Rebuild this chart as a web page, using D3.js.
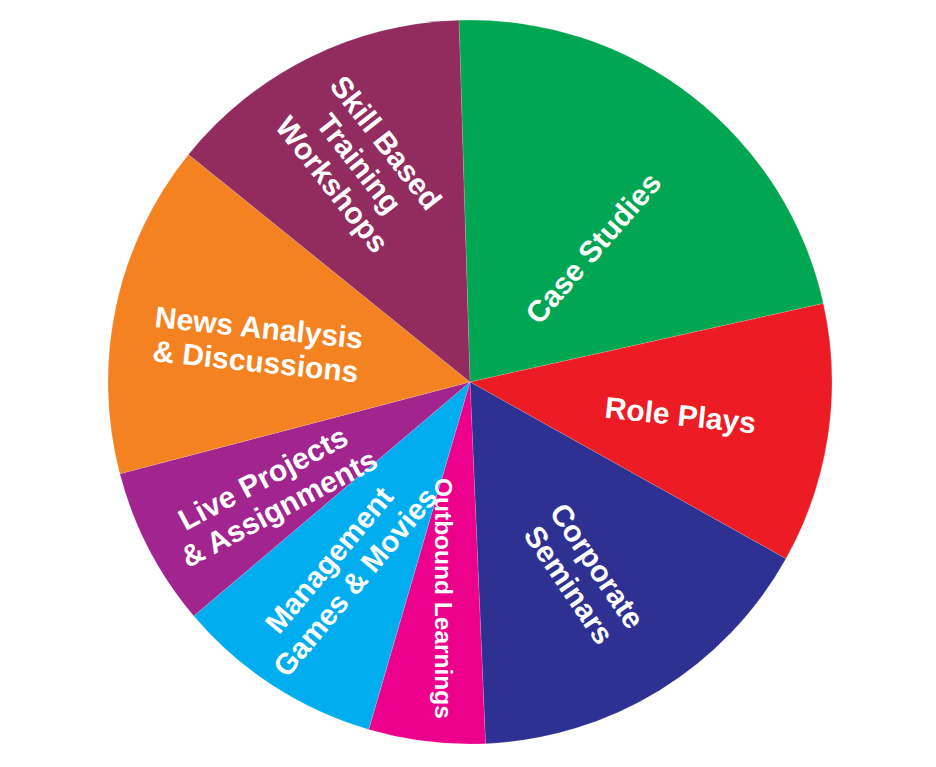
<!DOCTYPE html>
<html>
<head>
<meta charset="utf-8">
<script src="https://cdn.jsdelivr.net/npm/d3@7"></script>
<style>
	html, body { margin: 0; padding: 0; background: #fff; }
	svg { display: block; }
	.slice-label { font-family: "Liberation Sans", Arial, sans-serif; font-weight: bold; fill: #fff; }
</style>
</head>
<body>
<svg id="canvas" width="936" height="767"></svg>
<script>
// slices, clockwise from just left of 12 o'clock
const categories = ["Case Studies", "Role Plays", "Corporate Seminars", "Outbound Learnings",
	"Management Games & Movies", "Live Projects & Assignments", "News Analysis & Discussions",
	"Skill Based Training Workshops"];
const shares = [22, 11.6, 16.2, 5.2, 9.3, 7.1, 14.9, 13.7];
const labelLines = [["Case Studies"], ["Role Plays"], ["Corporate", "Seminars"], ["Outbound Learnings"],
	["Management", "Games & Movies"], ["Live Projects", "& Assignments"], ["News Analysis", "& Discussions"],
	["Skill Based", "Training", "Workshops"]];
const sliceColors = ["#00a651", "#ed1c24", "#2e3192", "#ec008c", "#00aeef", "#a1248f", "#f58220", "#922c5f"];

// label placement: radius, shift from mid angle (deg), text rotation (deg), font size
const labelLayout = [
	{r: 182, shift: 4.6, rot: -49, size: 30},
	{r: 213, shift: 0.5, rot: 6, size: 30},
	{r: 224, shift: 1.2, rot: 56, size: 30},
	{r: 218, shift: 0, rot: 90, size: 24.5},
	{r: 228, shift: 1.2, rot: -50, size: 29.5},
	{r: 228, shift: -1.6, rot: -28, size: 30},
	{r: 216, shift: -2, rot: 6, size: 30},
	{r: 245, shift: -0.4, rot: 52, size: 30}
];

const cx = 470, cy = 382, radius = 362;
const lineH = 34;

const svg = d3.select("#canvas");
const g = svg.append("g").attr("transform", "translate(" + cx + "," + cy + ")");

const pie = d3.pie()
	.sort(null)
	.value(d => d.value)
	.startAngle(-1.74 * Math.PI / 180)
	.endAngle(2 * Math.PI - 1.74 * Math.PI / 180);

const arc = d3.arc().innerRadius(0).outerRadius(radius);

const data = categories.map((c, i) => ({name: c, value: shares[i], lines: labelLines[i], color: sliceColors[i], layout: labelLayout[i]}));
const arcs = pie(data);

g.selectAll("path.slice")
	.data(arcs)
	.enter().append("path")
	.attr("class", "slice")
	.attr("d", arc)
	.attr("fill", d => d.data.color)
	.attr("stroke", "rgba(255,255,255,0.35)")
	.attr("stroke-width", 0.4);

const label = g.selectAll("g.label")
	.data(arcs)
	.enter().append("g")
	.attr("class", "label")
	.attr("transform", d => {
		const a = (d.startAngle + d.endAngle) / 2 + d.data.layout.shift * Math.PI / 180;
		const r = d.data.layout.r;
		return "translate(" + (r * Math.sin(a)) + "," + (-r * Math.cos(a)) + ") rotate(" + d.data.layout.rot + ")";
	});

label.each(function(d) {
	const n = d.data.lines.length;
	const fs = d.data.layout.size;
	d3.select(this).selectAll("text")
		.data(d.data.lines)
		.enter().append("text")
		.attr("class", "slice-label")
		.attr("text-anchor", "middle")
		.attr("font-size", fs)
		.attr("x", 0)
		.attr("y", (t, i) => (i - (n - 1) / 2) * lineH + fs * 0.36)
		.text(t => t);
});
</script>
</body>
</html>
